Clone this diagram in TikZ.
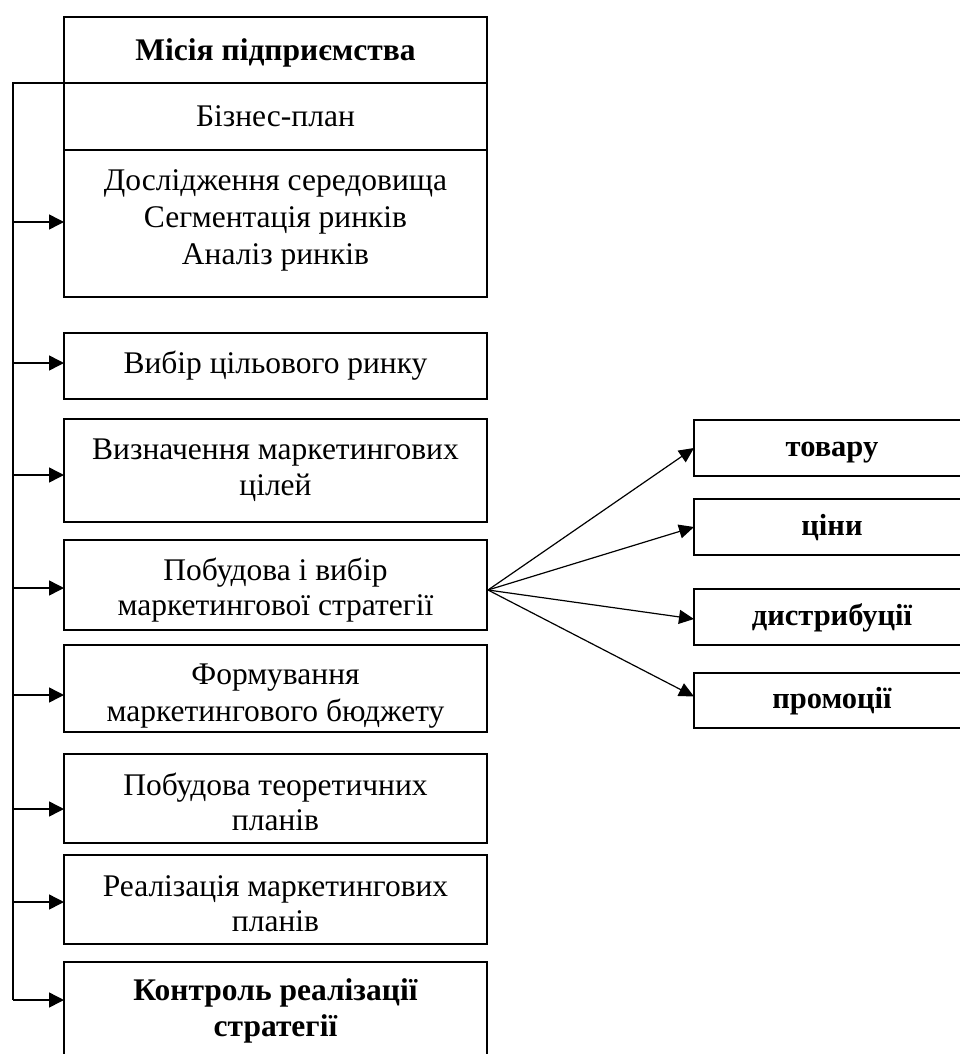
\documentclass[tikz,border=0pt]{standalone}
\usepackage{fontspec}
\setmainfont{Liberation Serif}
\usetikzlibrary{arrows.meta}
\newcommand{\twol}[3]{\smash{\raisebox{-#3}{\shortstack{#1\\[4pt]#2}}}}
\tikzset{
  box/.style={draw, line width=2pt, inner sep=0pt, outer sep=0pt, align=center,
    minimum width=423pt, font=\fontsize{31.5}{37}\selectfont},
  rbox/.style={draw, line width=2pt, inner sep=0pt, outer sep=0pt, align=center,
    minimum width=276pt, minimum height=56pt, text height=20pt, text depth=4pt,
    font=\fontsize{30.5}{35}\selectfont\bfseries},
  conn/.style={line width=1.5pt},
  arr/.style={line width=1.5pt, -{Triangle[length=15pt,width=15pt]}},
  fan/.style={line width=1.2pt, -{Triangle[length=15pt,width=14pt]}}
}
\begin{document}
\begin{tikzpicture}[x=1pt,y=-1pt]
\useasboundingbox (0,0) rectangle (960,1054);
\clip (0,0) rectangle (960,1054);
% left column
\node[box, minimum height=66pt, font=\fontsize{31.5}{37}\selectfont\bfseries] (m) at (275.5,50) {\smash{\raisebox{-11pt}{Місія підприємства}}};
\node[box, minimum height=67pt] (b) at (275.5,116.5) {Бізнес-план};
\node[box, minimum height=147pt] (d) at (275.5,223.5) {Дослідження середовища\\Сегментація ринків\\Аналіз ринків\\[-25pt]};
\node[box, minimum height=66pt] (v) at (275.5,366) {Вибір цільового ринку};
\node[box, minimum height=103pt] (c) at (275.5,470.5) {\twol{Визначення маркетингових}{цілей}{24.5pt}};
\node[box, minimum height=90pt] (s) at (275.5,585) {\twol{Побудова і вибір}{маркетингової стратегії}{30pt}};
\node[box, minimum height=87pt] (f) at (275.5,688.5) {\twol{Формування}{маркетингового бюджету}{32.5pt}};
\node[box, minimum height=89pt] (t) at (275.5,798.5) {\twol{Побудова теоретичних}{планів}{31.5pt}};
\node[box, minimum height=89pt] (r) at (275.5,899.5) {\twol{Реалізація маркетингових}{планів}{31.5pt}};
\node[box, minimum height=120pt, font=\fontsize{31.5}{37}\selectfont\bfseries] (k) at (275.5,1022) {\twol{Контроль реалізації}{стратегії}{14pt}};
% right column
\node[rbox] (p1) at (832,448) {товару};
\node[rbox] (p2) at (832,527) {ціни};
\node[rbox] (p3) at (832,617) {дистрибуції};
\node[rbox, minimum height=55pt] (p4) at (832,700.5) {промоції};
% left feedback line
\coordinate (vtop) at (13,83);
\coordinate (vbot) at (13,1000);
\coordinate (a1) at (13,222);
\coordinate (a2) at (13,363);
\coordinate (a3) at (13,475);
\coordinate (a4) at (13,588);
\coordinate (a5) at (13,695);
\coordinate (a6) at (13,809);
\coordinate (a7) at (13,902);
\draw[conn] (b.north west) -- (vtop) -- (vbot);
\draw[arr] (a1) -- (a1 -| d.west);
\draw[arr] (a2) -- (a2 -| v.west);
\draw[arr] (a3) -- (a3 -| c.west);
\draw[arr] (a4) -- (a4 -| s.west);
\draw[arr] (a5) -- (a5 -| f.west);
\draw[arr] (a6) -- (a6 -| t.west);
\draw[arr] (a7) -- (a7 -| r.west);
\draw[arr] (vbot) -- (vbot -| k.west);
% fan
\coordinate (o) at (488,590);
\draw[fan] (o) -- (p1.west);
\draw[fan] (o) -- (p2.west);
\draw[fan] (o) -- ([yshift=-2pt]p3.west);
\draw[fan] (o) -- ([yshift=4pt]p4.west);
\end{tikzpicture}
\end{document}
